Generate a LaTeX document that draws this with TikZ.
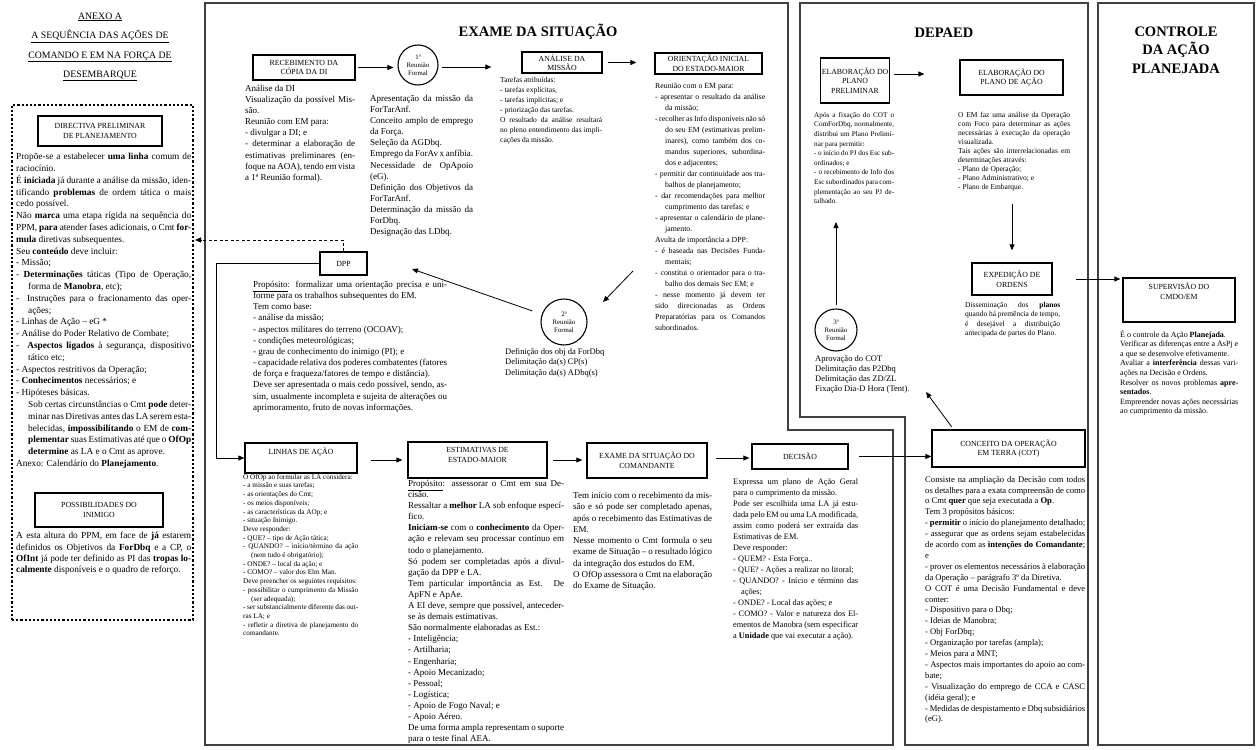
\documentclass[tikz,border=0pt]{standalone}
\usepackage{fontspec}
\setmainfont{Liberation Serif}
\usetikzlibrary{arrows.meta,calc}
\setlength\parindent{0pt}
\tolerance=9999 \emergencystretch=8pt \hbadness=10000 \hfuzz=60pt \vfuzz=60pt
\hyphenpenalty=300
\newcommand{\hi}[1][7pt]{\par\hangindent=#1\hangafter=1 }
\newcommand{\fs}[2]{\fontsize{#1}{#2}\selectfont}
\tikzset{
  frm/.style={draw=black!75, line width=1.3pt},
  lbl/.style={draw, line width=1.3pt, align=center, font=\fs{7.8}{9.6}, inner sep=1pt},
  circ/.style={circle, draw, line width=1.1pt, align=center, font=\fs{6.8}{7.8}, inner sep=0pt},
  txt/.style={anchor=north west, inner sep=0pt, align=justify},
  arr/.style={-{Triangle[length=6pt,width=5pt]}, line width=0.8pt},
  ttl/.style={font=\fs{14.5}{18}\bfseries, align=center},
}
\begin{document}
\begin{tikzpicture}[x=1pt,y=1pt]
\fill[white] (0,0) rectangle (1257,-749);
\useasboundingbox (0,0) rectangle (1257,-749);

% ---------- frames ----------
\path[frm] (205,-3) -- (788,-3) -- (788,-430) -- (893,-430) -- (893,-745) -- (205,-745) -- cycle;
\path[frm] (800,-3) -- (1088,-3) -- (1088,-745) -- (905,-745) -- (905,-417) -- (800,-417) -- cycle;
\path[frm] (1098,-3) -- (1254,-3) -- (1254,-745) -- (1098,-745) -- cycle;

% ---------- left column ----------
\node[align=center, font=\fs{9.8}{19.5}] (anx) at (100,-47)
  {\underline{ANEXO A}\\\underline{A SEQUÊNCIA DAS AÇÕES DE}\\\underline{COMANDO E EM NA FORÇA DE}\\\underline{DESEMBARQUE}};
\node[draw, line width=1.2pt, dash pattern=on 2.2pt off 2pt, minimum width=181pt, minimum height=515pt] (dbox) at (102.5,-362.5) {};
\node[lbl, minimum width=124pt, minimum height=30pt] (dir) at (100,-131) {DIRECTIVA PRELIMINAR\\DE PLANEJAMENTO};
\node[txt, text width=175pt, font=\fs{9.3}{11.8}] (dirt) at (16,-153) {%
Propõe-se a estabelecer \textbf{uma linha} comum de raciocínio.\par
É \textbf{iniciada} já durante a análise da missão, identificando \textbf{problemas} de ordem tática o mais cedo possível.\par
Não \textbf{marca} uma etapa rígida na sequência do PPM, \textbf{para} atender fases adicionais, o Cmt \textbf{formula} diretivas subsequentes.\par
Seu \textbf{conteúdo} deve incluir:\par
- Missão;\hi[12pt]- \textbf{Determinações} táticas (Tipo de Operação, forma de \textbf{Manobra}, etc);\hi[12pt]- \ Instruções para o fracionamento das operações;\par
- Linhas de Ação – eG *\par
- Análise do Poder Relativo de Combate;\hi[12pt]- \ \textbf{Aspectos ligados} à segurança, dispositivo tático etc;\par
- Aspectos restritivos da Operação;\par
- \textbf{Conhecimentos} necessários; e\par
- Hipóteses básicas.\par
{\leftskip=12pt Sob certas circunstâncias o Cmt \textbf{pode} determinar nas Diretivas antes das LA serem estabelecidas, \textbf{impossibilitando} o EM de \textbf{complementar} suas Estimativas até que o \textbf{OfOp determine} as LA e o Cmt as aprove.\par}
Anexo: Calendário do \textbf{Planejamento}.};
\node[lbl, minimum width=128pt, minimum height=34pt] (pos) at (99,-510) {POSSIBILIDADES DO\\INIMIGO};
\node[txt, text width=175pt, font=\fs{9.3}{11.3}] (post) at (16,-532) {%
A esta altura do PPM, em face de \textbf{já} estarem definidos os Objetivos da \textbf{ForDbq} e a CP, o \textbf{OfInt} já pode ter definido as PI das \textbf{tropas localmente} disponíveis e o quadro de reforço.};

\node[ttl] (tex) at (538,-32) {EXAME DA SITUAÇÃO};
\node[ttl] (tdp) at (944,-33) {DEPAED};
\node[ttl, font=\fs{14.5}{18.5}\bfseries] (tco) at (1176,-50) {CONTROLE\\DA AÇÃO\\PLANEJADA};

% ---------- exame: top row ----------
\node[lbl, minimum width=102pt, minimum height=25pt] (rec) at (304,-67.5) {RECEBIMENTO DA\\CÓPIA DA DI};
\node[circ, minimum size=40pt] (c1) at (418,-65) {1ª\\Reunião\\Formal};
\node[lbl, minimum width=80pt, minimum height=21pt] (ana) at (562,-62.5) {ANÁLISE DA\\MISSÃO};
\node[lbl, minimum width=107pt, minimum height=21pt] (ori) at (708.5,-63.5) {ORIENTAÇÃO INICIAL\\DO ESTADO-MAIOR};
\draw[arr, shorten <=2pt, shorten >=4pt] (rec.east) -- (rec.east -| c1.west);
\draw[arr, shorten <=3pt, shorten >=30pt] (c1.east |- 0,-67) -- (ana.west |- 0,-67);
\draw[arr, shorten <=5pt, shorten >=18pt] (ana.east) -- (ana.east -| ori.west);

\node[txt, text width=110pt, font=\fs{9}{11.1}] (t1) at (245,-85) {%
Análise da DI\par Visualização da possível Missão.\par Reunião com EM para:\par - divulgar a DI; e\hi[14pt]- determinar a elaboração de estimativas preliminares (enfoque na AOA), tendo em vista a 1ª Reunião formal).};
\node[txt, text width=103pt, font=\fs{9}{11.1}] (t2) at (370,-95) {%
Apresentação da missão da ForTarAnf.\par Conceito amplo de emprego da Força.\par Seleção da AGDbq.\par Emprego da ForAv x anfíbia.\par Necessidade de OpApoio (eG).\par Definição dos Objetivos da ForTarAnf.\par Determinação da missão da ForDbq.\par Designação das LDbq.};
\node[txt, text width=102pt, font=\fs{7.5}{10}] (t3) at (500,-77) {%
Tarefas atribuídas:\par - tarefas explícitas,\par - tarefas implícitas; e\par - priorização das tarefas.\par O resultado da análise resultará no pleno entendimento das implicações da missão.};
\node[txt, text width=110pt, font=\fs{7.8}{11}] (t4) at (655,-83) {%
Reunião com o EM para:\hi[10pt]- apresentar o resultado da análise da missão;\hi[10pt]- recolher as Info disponíveis não só do seu EM (estimativas preliminares), como também dos comandos superiores, subordinados e adjacentes;\hi[10pt]- permitir dar continuidade aos trabalhos de planejamento;\hi[10pt]- dar recomendações para melhor cumprimento das tarefas; e\hi[10pt]- apresentar o calendário de planejamento.\par
Avulta de importância a DPP:\hi[10pt]- é baseada nas Decisões Fundamentais;\hi[10pt]- constitui o orientador para o trabalho dos demais Sec EM; e\hi[10pt]- nesse momento já devem ter sido direcionadas as Ordens Preparatórias para os Comandos subordinados.};

% ---------- exame: middle ----------
\node[lbl, minimum width=47pt, minimum height=23pt] (dpp) at (343.5,-263.5) {DPP};
\node[txt, text width=194pt, font=\fs{9}{11.15}] (t5) at (253,-281) {%
\underline{Propósito}: formalizar uma orientação precisa e uniforme para os trabalhos subsequentes do EM.\par Tem como base:\par - análise da missão;\par - aspectos militares do terreno (OCOAV);\par - condições meteorológicas;\par - grau de conhecimento do inimigo (PI); e\par - capacidade relativa dos poderes combatentes (fatores de força e fraqueza/fatores de tempo e distância).\par Deve ser apresentada o mais cedo possível, sendo, assim, usualmente incompleta e sujeita de alterações ou aprimoramento, fruto de novas informações.};
\node[circ, minimum size=46pt] (c2) at (564,-322) {2ª\\Reunião\\Formal};
\node[txt, text width=112pt, font=\fs{8.5}{10.5}] (t6) at (505,-348) {%
Definição dos obj da ForDbq\par Delimitação da(s) CP(s)\par Delimitação da(s) ADbq(s)};
\coordinate (otail) at (633,-271);
\coordinate (otip) at (603,-302);
\coordinate (dtip) at (412,-269);
\coordinate (ltip) at (195,-240);
\draw[arr] (otail) -- (otip);
\draw[arr, shorten <=10pt] (c2) -- (dtip);
\draw[-{Triangle[length=6pt,width=5pt]}, line width=0.9pt, dash pattern=on 3pt off 2.5pt] (dpp.north) |- (ltip);
\node[lbl, minimum width=112pt, minimum height=30pt, text depth=14pt] (lin) at (301,-458) {LINHAS DE AÇÃO};
\draw[arr] (dpp.west) -- ++(-103,0) |- (lin.west);

% ---------- exame: bottom row ----------
\node[lbl, minimum width=139pt, minimum height=36pt, text depth=10pt] (est) at (477.5,-460) {ESTIMATIVAS DE\\ESTADO-MAIOR};
\node[lbl, minimum width=120pt, minimum height=35pt] (cmt) at (647,-460.5) {EXAME DA SITUAÇÃO DO\\COMANDANTE};
\node[lbl, minimum width=96pt, minimum height=25pt] (dec) at (800,-456.5) {DECISÃO};
\draw[arr, shorten <=13pt, shorten >=5pt] (lin.east |- 0,-460) -- (est.west |- 0,-460);
\draw[arr, shorten <=5pt, shorten >=4pt] (est.east) -- (est.east -| cmt.west);
\draw[arr, shorten <=8pt, shorten >=2pt] (cmt.east |- 0,-458) -- (dec.west |- 0,-458);

\node[txt, text width=115pt, font=\fs{7.2}{8.7}] (t7) at (243,-474) {%
O OfOp ao formular as LA considera:\par - a missão e suas tarefas;\par - as orientações do Cmt;\par - os meios disponíveis;\par - as características da AOp; e\par - situação Inimigo.\par Deve responder:\par - QUE? – tipo de Ação tática;\hi[8pt]- QUANDO? – início/término da ação (nem tudo é obrigatório);\par - ONDE? – local da ação; e\par - COMO? – valor dos Elm Man.\par Deve preencher os seguintes requisitos:\hi[8pt]- possibilitar o cumprimento da Missão (ser adequada);\par - ser substancialmente diferente das outras LA; e\par - refletir a diretiva de planejamento do comandante.};
\node[txt, text width=156pt, font=\fs{9}{11.1}] (t8) at (408,-480) {%
\underline{Propósito}: assessorar o Cmt em sua Decisão.\par Ressaltar a \textbf{melhor} LA sob enfoque específico.\par \textbf{Iniciam-se} com o \textbf{conhecimento} da Operação e relevam seu processar contínuo em todo o planejamento.\par Só podem ser completadas após a divulgação da DPP e LA.\par Tem particular importância as Est. De ApFN e ApAe.\par A EI deve, sempre que possível, anteceder-se às demais estimativas.\par São normalmente elaboradas as Est.:\par - Inteligência;\par - Artilharia;\par - Engenharia;\par - Apoio Mecanizado;\par - Pessoal;\par - Logística;\par - Apoio de Fogo Naval; e\par - Apoio Aéreo.\par De uma forma ampla representam o suporte para o teste final AEA.};
\node[txt, text width=139pt, font=\fs{9}{11.3}] (t9) at (573,-492) {%
Tem início com o recebimento da missão e só pode ser completado apenas, após o recebimento das Estimativas de EM.\par Nesse momento o Cmt formula o seu exame de Situação – o resultado lógico da integração dos estudos do EM.\par O OfOp assessora o Cmt na elaboração do Exame de Situação.};
\node[txt, text width=125pt, font=\fs{8.3}{11}] (t10) at (733,-479) {%
Expressa um plano de Ação Geral para o cumprimento da missão.\par Pode ser escolhida uma LA já estudada pelo EM ou uma LA modificada, assim como poderá ser extraída das Estimativas de EM.\par Deve responder:\par - QUEM? - Esta Força..\par - QUE? - Ações a realizar no litoral;\hi[8pt]- QUANDO? - Início e término das ações;\par - ONDE? - Local das ações; e\hi[8pt]- COMO? - Valor e natureza dos Elementos de Manobra (sem especificar a \textbf{Unidade} que vai executar a ação).};

% ---------- DEPAED ----------
\node[lbl, minimum width=66pt, minimum height=45pt] (pre) at (855,-80.5) {ELABORAÇÃO DO\\PLANO\\PRELIMINAR};
\node[lbl, minimum width=103pt, minimum height=35pt] (pac) at (1011.5,-77.5) {ELABORAÇÃO DO\\PLANO DE AÇÃO};
\draw[arr, shorten <=4pt, shorten >=35pt] (pre.east |- 0,-74) -- (pac.west |- 0,-74);
\node[txt, text width=80pt, font=\fs{7.2}{9.6}] (t11) at (814,-112) {%
Após a fixação do COT o ComForDbq, normalmente, distribui um Plano Preliminar para permitir:\par - o início do PJ dos Esc subordinados; e\par - o recebimento de Info dos Esc subordinados para complementação ao seu PJ detalhado.};
\node[txt, text width=112pt, font=\fs{7.5}{9}] (t12) at (958,-112) {%
O EM faz uma análise da Operação com Foco para determinar as ações necessárias à execução da operação visualizada.\par Tais ações são interrelacionadas em determinações através:\par - Plano de Operação;\par - Plano Administrativo; e\par - Plano de Embarque.};
\node[lbl, minimum width=80pt, minimum height=32pt] (exp) at (1012,-279) {EXPEDIÇÃO DE\\ORDENS};
\coordinate (ptail) at (1012,-204);
\draw[arr, shorten >=12pt] (ptail) -- (exp.north);
\node[txt, text width=95pt, font=\fs{7.5}{9.5}] (t13) at (965,-302) {%
Disseminação dos \textbf{planos} quando há premência de tempo, é desejável a distribuição antecipada de partes do Plano.};
\node[circ, minimum size=42pt] (c3) at (836,-330) {3ª\\Reunião\\Formal};
\coordinate (ctip) at (836,-222);
\draw[arr, shorten <=3pt] (c3.north) -- (ctip);
\node[txt, text width=112pt, font=\fs{8.5}{10}] (t14) at (815,-355) {%
Aprovação do COT\par Delimitação das P2Dbq\par Delimitação das ZD/ZL\par Fixação Dia-D Hora (Tent).};
\node[lbl, minimum width=153pt, minimum height=37pt] (con) at (1008.5,-448.5) {CONCEITO DA OPERAÇÃO\\EM TERRA (COT)};
\coordinate (ftip) at (926,-392);
\draw[arr, shorten <=3pt] ([xshift=-55pt]con.north) -- (ftip);
\draw[arr, shorten <=10pt] (dec.east) -- (dec.east -| con.west);
\node[txt, text width=160pt, font=\fs{8.6}{10.9}] (t15) at (925,-476) {%
Consiste na ampliação da Decisão com todos os detalhes para a exata compreensão de como o Cmt \textbf{quer} que seja executada a \textbf{Op}.\par Tem 3 propósitos básicos:\par - \textbf{permitir} o início do planejamento detalhado;\par - assegurar que as ordens sejam estabelecidas de acordo com as \textbf{intenções do Comandante}; e\par - prover os elementos necessários à elaboração da Operação – parágrafo 3º da Diretiva.\par O COT é uma Decisão Fundamental e deve conter:\par - Dispositivo para o Dbq;\par - Ideias de Manobra;\par - Obj ForDbq;\par - Organização por tarefas (ampla);\par - Meios para a MNT;\par - Aspectos mais importantes do apoio ao combate;\par - Visualização do emprego de CCA e CASC (idéia geral); e\par - Medidas de despistamento e Dbq subsidiários (eG).};

% ---------- Controle ----------
\node[lbl, minimum width=112pt, minimum height=44pt, text depth=18pt] (sup) at (1179,-300) {SUPERVISÃO DO\\CMDO/EM};
\draw[arr, shorten <=23pt, shorten >=2pt] (exp.east) -- (exp.east -| sup.west);
\node[txt, text width=118pt, font=\fs{8}{9.6}] (t16) at (1120,-330) {%
É o controle da Ação \textbf{Planejada}.\par Verificar as diferenças entre a AsPj e a que se desenvolve efetivamente.\par Avaliar a \textbf{interferência} dessas variações na Decisão e Ordens.\par Resolver os novos problemas \textbf{apresentados}.\par Empreender novas ações necessárias ao cumprimento da missão.};
\end{tikzpicture}
\end{document}
